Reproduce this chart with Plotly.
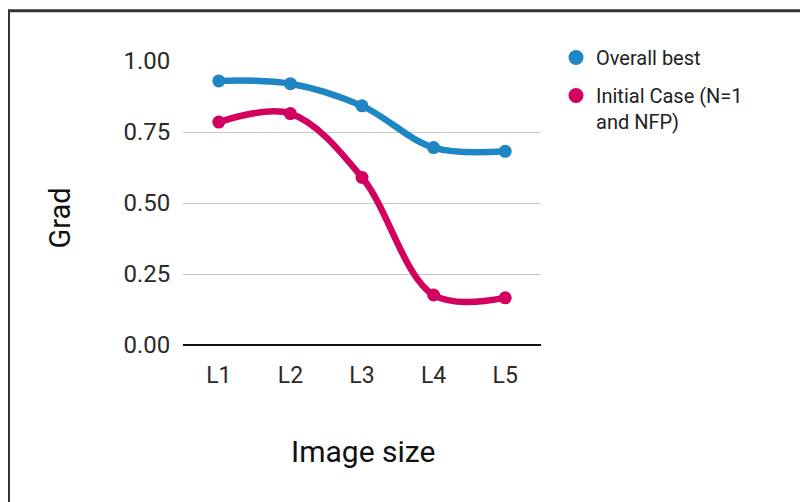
import plotly.graph_objects as go

categories = ["L1", "L2", "L3", "L4", "L5"]
overall_best = [0.93, 0.92, 0.842, 0.695, 0.682]
initial_case = [0.785, 0.815, 0.59, 0.176, 0.166]
y_ticks = [0.0, 0.25, 0.5, 0.75, 1.0]
y_tick_labels = ["0.00", "0.25", "0.50", "0.75", "1.00"]
series_names = ["Overall best", "Initial Case (N=1<br>and NFP)"]
colors = ["#1f86c6", "#d2005f"]

# figure is placed at (8, 8) in the page by the browser body margin
W, H = 800, 494
L, T = 175, 53
PR, PB = 533, 337
R, B = W - PR, H - PB
pw, ph = PR - L, PB - T

def px(x):
    return (x - L) / pw

def py(y):
    return (PB - y) / ph

fig = go.Figure()
for vals, name, col in zip([overall_best, initial_case], series_names, colors):
    fig.add_trace(go.Scatter(
        x=categories, y=vals, name=name, showlegend=False,
        mode="lines+markers", line=dict(color=col, width=6.5, shape="spline", smoothing=1),
        marker=dict(size=13, color=col),
    ))
for i, (name, col) in enumerate(zip(series_names, colors)):
    fig.add_trace(go.Scatter(
        x=[None], y=[None], name=name, mode="markers", legendgroup=f"g{i}",
        marker=dict(size=15, color=col), showlegend=True,
    ))

fig.update_layout(
    width=W, height=H,
    margin=dict(l=L, r=R, t=T, b=B, pad=0),
    paper_bgcolor="white", plot_bgcolor="white",
    font=dict(family="Roboto", color="#222222"),
    showlegend=True,
    legend=dict(x=px(548), y=py(30), xanchor="left", yanchor="top",
                font=dict(size=20, color="#222222"), tracegroupgap=9,
                valign="top", bgcolor="rgba(0,0,0,0)"),
    xaxis=dict(range=[-0.5, 4.5], showgrid=False, zeroline=False, showline=False,
               ticks="outside", ticklen=9, tickcolor="rgba(0,0,0,0)",
               tickfont=dict(size=23, color="#2a2a2a")),
    yaxis=dict(range=[0, 1], tickvals=y_ticks, ticktext=y_tick_labels,
               showgrid=True, gridcolor="#c8c8c8", gridwidth=1,
               zeroline=True, zerolinecolor="#111111", zerolinewidth=2,
               showline=False, ticks="outside", ticklen=7, tickcolor="rgba(0,0,0,0)",
               tickfont=dict(size=24, color="#2a2a2a")),
    annotations=[
        dict(text="Image size", xref="paper", yref="paper", x=px(354.5), y=py(443),
             xanchor="center", yanchor="middle", showarrow=False,
             font=dict(size=30, color="#111111")),
        dict(text="Grad", xref="paper", yref="paper", x=px(51), y=py(209.5),
             xanchor="center", yanchor="middle", showarrow=False, textangle=-90,
             font=dict(size=29, color="#111111")),
    ],
    shapes=[dict(type="rect", xref="paper", yref="paper",
                 x0=px(0.5), x1=px(812), y0=py(506), y1=py(2.7),
                 line=dict(color="#333333", width=3), fillcolor="rgba(0,0,0,0)", layer="below")],
)

fig.write_html("out.html")
